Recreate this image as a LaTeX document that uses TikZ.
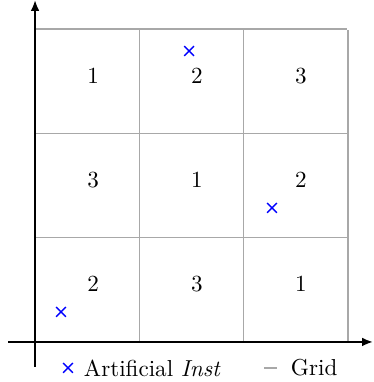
\documentclass[tikz,border=0pt]{standalone}
\usepackage{amsmath,amssymb}
\usepackage{tikz}
\usetikzlibrary{arrows.meta,shapes.misc}
\usepackage{xcolor}
\definecolor{GridGray}{HTML}{A8A8A8}
\definecolor{InstBlue}{HTML}{0000FF}

\begin{document}
\begin{tikzpicture}[>={Latex[length=5pt,width=4pt]},x=1.667cm,y=1.667cm,
    font=\fontsize{10.5}{12.6}\selectfont,
    inst/.style={cross out,draw=InstBlue,line width=0.65pt,minimum size=3.8pt,inner sep=0pt},
    cellnum/.style={inner sep=0pt}]
  \useasboundingbox (-0.336,-0.384) rectangle (3.241,3.279);
  % grid
  \foreach \i in {0,1,2,3}{
    \draw[GridGray,line width=0.6pt] (\i,0)--(\i,2.99);
    \draw[GridGray,line width=0.6pt] (0,\i)--(2.99,\i);
  }
  % latin square labels
  \node[cellnum] (n11) at (0.556,2.55) {1};
  \node[cellnum] (n12) at (1.553,2.55) {2};
  \node[cellnum] (n13) at (2.55,2.55) {3};
  \node[cellnum] (n21) at (0.556,1.553) {3};
  \node[cellnum] (n22) at (1.553,1.553) {1};
  \node[cellnum] (n23) at (2.55,1.553) {2};
  \node[cellnum] (n31) at (0.556,0.556) {2};
  \node[cellnum] (n32) at (1.553,0.556) {3};
  \node[cellnum] (n33) at (2.55,0.556) {1};
  % axes
  \coordinate (xs) at (-0.259,0);
  \coordinate (xe) at (3.241,0);
  \coordinate (ys) at (0,-0.24);
  \coordinate (ye) at (0,3.279);
  \draw[->,line width=0.9pt] (xs)--(xe);
  \draw[->,line width=0.9pt] (ys)--(ye);
  % artificial instances
  \node[inst] (a1) at (1.477,2.79) {};
  \node[inst] (a2) at (2.272,1.285) {};
  \node[inst] (a3) at (0.249,0.288) {};
  % legend
  \node[inst] (lgx) at (0.316,-0.249) {};
  \node[anchor=west,inner sep=0pt] (lgi) at (0.465,-0.249) {Artificial \textit{Inst}};
  \coordinate (lgl) at (2.196,-0.249);
  \coordinate (lgr) at (2.32,-0.249);
  \draw[GridGray,line width=0.6pt] (lgl)--(lgr);
  \node[anchor=west,inner sep=0pt] (lgg) at (2.45,-0.249) {Grid};
\end{tikzpicture}
\end{document}
